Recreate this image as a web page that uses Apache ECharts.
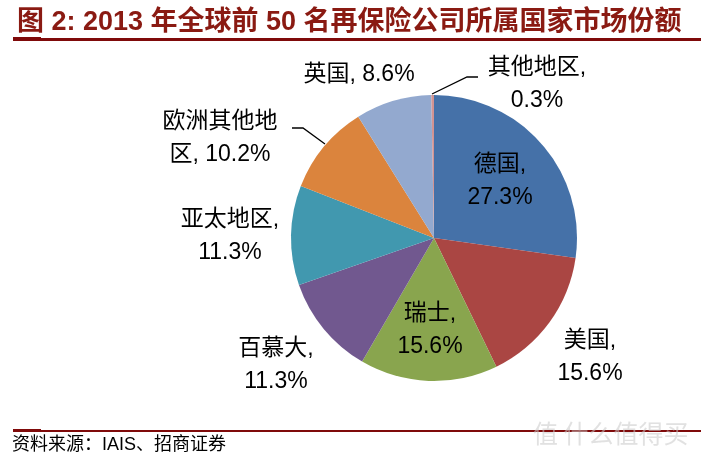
<!DOCTYPE html>
<html><head><meta charset="utf-8">
<script src="https://cdn.jsdelivr.net/npm/echarts@6/dist/echarts.min.js"></script>
<style>html,body{margin:0;padding:0;background:#fff}#c{width:703px;height:462px}</style>
</head><body><div id="c"></div>
<script>
// Data
var categories = ['德国', '美国', '瑞士', '百慕大', '亚太地区', '欧洲其他地区', '英国', '其他地区'];
var shares = [27.3, 15.6, 15.6, 11.3, 11.3, 10.2, 8.6, 0.3];
var labelTexts = ['德国,\n27.3%', '美国,\n15.6%', '瑞士,\n15.6%', '百慕大,\n11.3%', '亚太地区,\n11.3%', '欧洲其他地\n区, 10.2%', '英国, 8.6%', '其他地区,\n0.3%'];
var titleText = '图 2: 2013 年全球前 50 名再保险公司所属国家市场份额';
var sourceText = '资料来源：IAIS、招商证券';

// Styles / layout
var colors = ['#4571A8', '#AA4643', '#89A54E', '#71588F', '#4198AF', '#DB843D', '#93A9CF', '#D19392'];
var labelPos = {
  '德国': [500, 181], '美国': [590, 357], '瑞士': [430, 330], '百慕大': [276, 365],
  '亚太地区': [230, 236], '欧洲其他地区': [220, 138], '英国': [359, 75], '其他地区': [537, 84]
};
var labelLines = {
  '其他地区': [[432, 94], [467, 77], [478, 77]],
  '欧洲其他地区': [[325, 144], [303, 128], [292, 128]]
};

var chart = echarts.init(document.getElementById('c'), null, {renderer: 'canvas'});
var data = categories.map(function (n, i) {
  return {
    name: n, value: shares[i],
    itemStyle: {color: colors[i]},
    labelLine: {show: !!labelLines[n], lineStyle: {color: '#000', width: 1.3}}
  };
});
chart.setOption({
  animation: false,
  title: {
    text: titleText, left: 12, top: 4,
    textStyle: {fontSize: 27, fontWeight: 'bold', color: '#8A1A12', fontFamily: 'Liberation Sans, Noto Sans CJK SC'}
  },
  graphic: [
    {type: 'rect', shape: {x: 13, y: 38, width: 688, height: 3}, style: {fill: '#7F0A0A'}},
    {type: 'rect', shape: {x: 13, y: 37, width: 28, height: 4}, style: {fill: '#7F0A0A'}},
    {type: 'rect', shape: {x: 13, y: 430, width: 688, height: 2}, style: {fill: '#7F0A0A'}},
    {type: 'rect', shape: {x: 13, y: 429, width: 28, height: 3}, style: {fill: '#7F0A0A'}},
    {type: 'text', left: 12, top: 436, style: {text: sourceText, fontSize: 18, fill: '#000', fontFamily: 'Liberation Sans, Noto Sans CJK SC'}},
    {type: 'text', left: 533, top: 421, style: {text: '值 什么值得买', fontSize: 25, fill: 'rgba(200,200,200,0.55)', fontFamily: 'Noto Sans CJK SC'}}
  ],
  series: [{
    type: 'pie',
    center: [434, 238],
    radius: 143,
    startAngle: 90,
    clockwise: true,
    avoidLabelOverlap: false,
    itemStyle: {borderWidth: 0},
    label: {
      show: true, position: 'outside',
      formatter: function (p) { return labelTexts[p.dataIndex]; },
      fontSize: 23, lineHeight: 33, color: '#000', align: 'center',
      fontFamily: 'Liberation Sans, Noto Sans CJK SC'
    },
    labelLine: {show: false},
    labelLayout: function (p) {
      var n = categories[p.dataIndex];
      var pos = labelPos[n];
      var r = {x: pos[0], y: pos[1], align: 'center', verticalAlign: 'middle'};
      if (labelLines[n]) r.labelLinePoints = labelLines[n];
      return r;
    },
    emphasis: {disabled: true},
    data: data
  }]
});
</script></body></html>
